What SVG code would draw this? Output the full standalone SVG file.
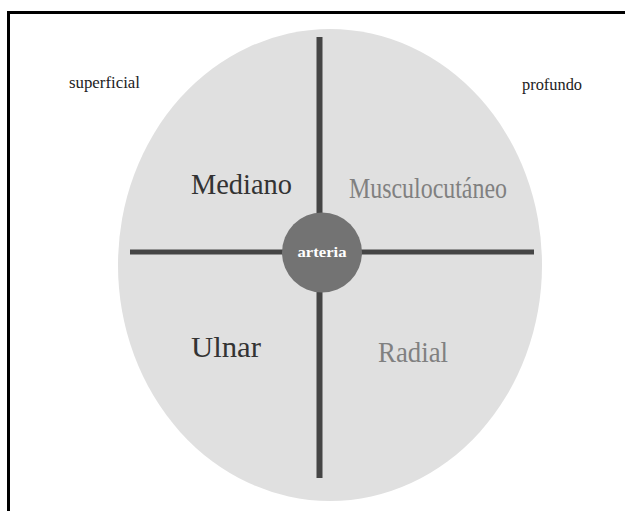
<svg xmlns="http://www.w3.org/2000/svg" width="625" height="511" viewBox="0 0 625 511">
<style>
  .lbl { font-family: "Liberation Serif", "Times New Roman", serif; }
  .small { font-size: 17px; fill: #222; }
  .big { font-size: 29px; }
  .dark { fill: #333; }
  .grey { fill: #808080; }
  .axis { stroke: #454545; fill: none; }
</style>
<rect width="625" height="511" fill="#ffffff"/>
<g id="frame" stroke="#000" stroke-width="3" fill="none">
  <line x1="8" y1="12.5" x2="625" y2="12.5"/>
  <line x1="8.5" y1="11" x2="8.5" y2="511"/>
</g>
<g id="section">
  <ellipse cx="330" cy="265" rx="212" ry="236" fill="#e0e0e0"/>
</g>
<g id="connectors">
  <line class="axis" x1="319.5" y1="37" x2="319.5" y2="478" stroke-width="6"/>
  <line class="axis" x1="130" y1="252" x2="534" y2="252" stroke-width="5"/>
</g>
<g id="arteria">
  <circle cx="322" cy="252.5" r="40" fill="#737373"/>
  <text class="lbl" x="322" y="257" font-size="14" font-weight="bold" fill="#ffffff" text-anchor="middle" textLength="49" lengthAdjust="spacingAndGlyphs">arteria</text>
</g>
<g id="superficial">
  <text class="lbl small" x="69" y="88" textLength="71" lengthAdjust="spacingAndGlyphs">superficial</text>
</g>
<g id="profundo">
  <text class="lbl small" x="522" y="90" textLength="60" lengthAdjust="spacingAndGlyphs">profundo</text>
</g>
<g id="mediano">
  <text class="lbl big dark" x="191" y="194" textLength="101" lengthAdjust="spacingAndGlyphs">Mediano</text>
</g>
<g id="musculocutaneo">
  <text class="lbl big grey" x="349" y="198" textLength="158" lengthAdjust="spacingAndGlyphs">Musculocutáneo</text>
</g>
<g id="ulnar">
  <text class="lbl big dark" x="191" y="357" textLength="70" lengthAdjust="spacingAndGlyphs">Ulnar</text>
</g>
<g id="radial">
  <text class="lbl big grey" x="378" y="362" textLength="70" lengthAdjust="spacingAndGlyphs">Radial</text>
</g>
</svg>
